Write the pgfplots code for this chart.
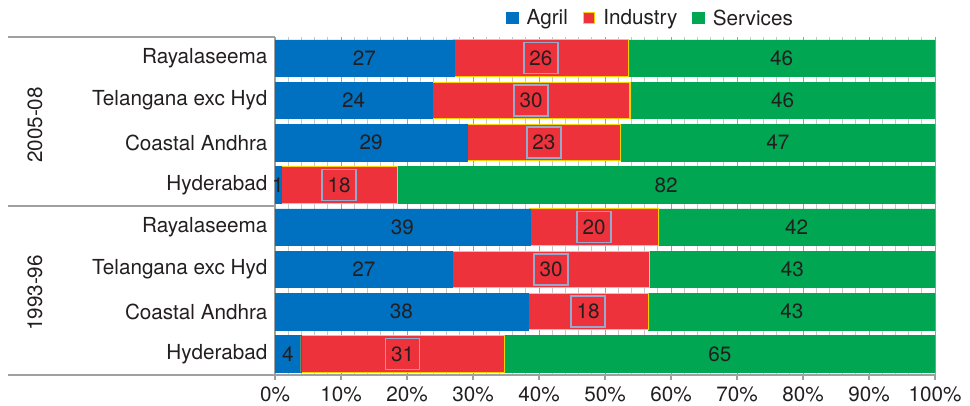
\documentclass[border=0pt]{standalone}
\usepackage{pgfplots}
\pgfplotsset{compat=1.18}
\usepackage{fontspec}
\setmainfont{TeX Gyre Heros}
\definecolor{cagr}{RGB}{0,112,192}
\definecolor{cind}{RGB}{238,50,60}
\definecolor{cser}{RGB}{0,166,81}
\definecolor{cedge}{RGB}{250,210,0}
\definecolor{ctext}{RGB}{35,31,32}
\definecolor{caxis}{RGB}{160,160,160}
\definecolor{cgrid}{RGB}{200,200,200}
\definecolor{cbox}{RGB}{150,170,205}
\begin{document}
\begin{tikzpicture}[font=\fontsize{20.7}{24}\selectfont]
\path[use as bounding box] (0pt,0pt) rectangle (970pt,405pt);
\pgfplotsset{
  commonaxis/.style={
    at={(275pt,30pt)}, anchor=south west,
    scale only axis, width=660pt, height=338pt,
    xmin=0, xmax=100, ymin=-0.5, ymax=7.5,
  }
}
\begin{axis}[
  commonaxis,
  xbar stacked, bar width=36.5pt,
  axis x line*=bottom, axis y line*=left,
  axis line style={caxis, line width=1.5pt},
  xtick={0,10,...,100}, minor x tick num=4,
  xticklabel={\pgfmathprintnumber{\tick}\%},
  tick align=outside, major tick length=5pt, minor tick length=0pt,
  xtick style={caxis, line width=1.2pt},
  ytick style={draw=none},
  xmajorgrids, xminorgrids,
  major grid style={caxis, line width=0.8pt},
  minor grid style={cgrid, line width=0.8pt},
  ytick={0,...,7},
  yticklabels={Hyderabad, Coastal Andhra, Telangana exc Hyd, Rayalaseema, Hyderabad, Coastal Andhra, Telangana exc Hyd, Rayalaseema},
  yticklabel style={text=ctext, xshift=1pt},
  xticklabel style={text=ctext, yshift=-3.5pt},
  /pgf/number format/assume math mode=true,
  legend image code/.code={\draw[#1, line width=1.5pt] (0pt,-5.5pt) rectangle (11pt,5.5pt);},
  legend style={at={(0.569,1.056)}, anchor=center, draw=none, fill=none,
    legend columns=-1, inner sep=0pt, text=ctext,
    /tikz/every odd column/.append style={column sep=6pt},
    /tikz/every even column/.append style={column sep=13pt}},
]
\addplot[fill=cagr, draw=cagr] coordinates {(3.9,0) (38.3,1) (26.9,2) (38.6,3) (0.9,4) (29.1,5) (23.8,6) (27.1,7)};
\addlegendentry{Agril}
\addplot[fill=cind, draw=cedge, line width=1.2pt] coordinates {(30.9,0) (18.3,1) (29.9,2) (19.5,3) (17.6,4) (23.3,5) (30.0,6) (26.4,7)};
\addlegendentry{Industry}
\addplot[fill=cser, draw=cser] coordinates {(65.2,0) (43.4,1) (43.2,2) (41.9,3) (81.5,4) (47.6,5) (46.2,6) (46.5,7)};
\addlegendentry{Services}
\end{axis}
\begin{axis}[commonaxis, hide axis, clip=false]
\addplot[draw=none, mark=none, nodes near coords, point meta=explicit symbolic,
  nodes near coords style={anchor=center, text=ctext, font=\fontsize{20.7}{24}\selectfont}]
  table[meta=lab] {
x y lab
1.95 0 4
19.15 1 38
13.45 2 27
19.3 3 39
0.45 4 1
14.55 5 29
11.9 6 24
13.55 7 27
};
\addplot[draw=none, mark=none, nodes near coords, point meta=explicit symbolic,
  nodes near coords style={anchor=center, text=ctext, font=\fontsize{20.7}{24}\selectfont,
    draw=cbox, line width=1.5pt, fill=cind, minimum width=34pt, minimum height=31pt, inner sep=0pt}]
  table[meta=lab] {
x y lab
19.35 0 31
47.45 1 18
41.85 2 30
48.35 3 20
9.7 4 18
40.75 5 23
38.8 6 30
40.3 7 26
};
\addplot[draw=none, mark=none, nodes near coords, point meta=explicit symbolic,
  nodes near coords style={anchor=center, text=ctext, font=\fontsize{20.7}{24}\selectfont}]
  table[meta=lab] {
x y lab
67.4 0 65
78.3 1 43
78.4 2 43
79.05 3 42
59.25 4 82
76.2 5 47
76.9 6 46
76.75 7 46
};
\end{axis}
\draw[caxis, line width=1.5pt] (8pt,368pt) -- (275pt,368pt);
\draw[caxis, line width=1.5pt] (8pt,199pt) -- (275pt,199pt);
\draw[caxis, line width=1.5pt] (8pt,30pt) -- (275pt,30pt);
\node[rotate=90, text=ctext] at (35pt,280pt) {2005-08};
\node[rotate=90, text=ctext] at (35pt,112pt) {1993-96};
\end{tikzpicture}
\end{document}
